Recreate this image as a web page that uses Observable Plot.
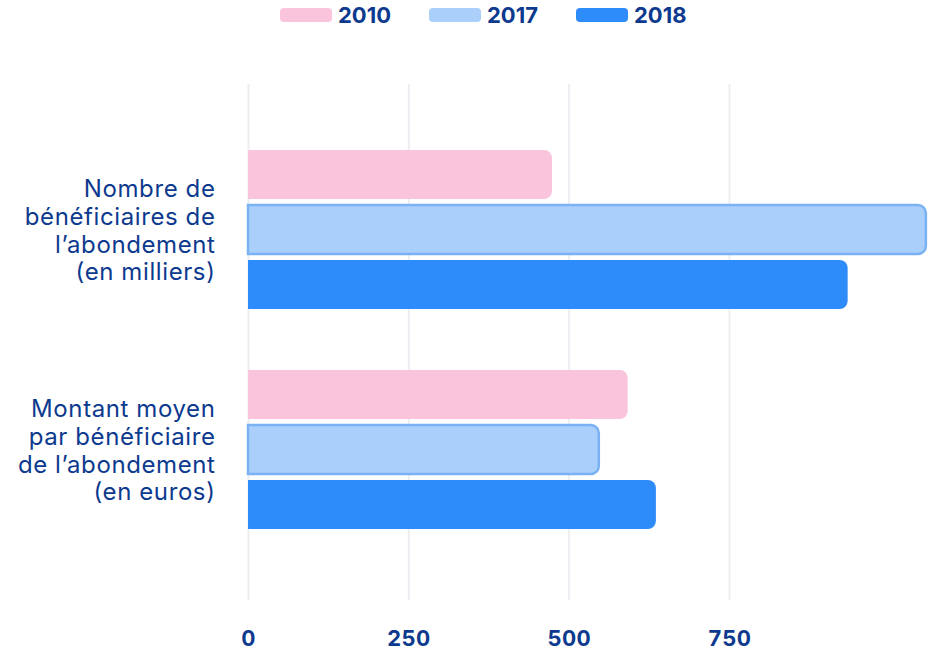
<!DOCTYPE html>
<html><head><meta charset="utf-8">
<script src="https://cdn.jsdelivr.net/npm/d3@7"></script>
<script src="https://cdn.jsdelivr.net/npm/@observablehq/plot@0.6"></script>
<style>
body{margin:0;background:#fff;font-family:Inter,"Noto Sans",sans-serif;width:928px;height:652px;overflow:hidden;}
#legend{display:flex;height:30px;align-items:center;padding-left:280px;box-sizing:border-box;}
.item{display:flex;align-items:center;margin-right:38px;}
.sw{width:52px;height:14px;border-radius:4px;margin-right:6px;}
.lab{font-size:22px;font-weight:700;color:#0d3a8e;letter-spacing:0px;}
g[aria-label="y-axis tick label"] text{letter-spacing:0.6px;}
g[aria-label="x-axis tick label"] text{letter-spacing:0.3px;}
</style></head><body>
<div id="legend"></div><div id="chart"></div>
<script>
const categoryLines = [
  ["Nombre de", "bénéficiaires de", "l’abondement", "(en milliers)"],
  ["Montant moyen", "par bénéficiaire", "de l’abondement", "(en euros)"]
];
const years = ["2010", "2017", "2018"];
const values2010 = [474, 592];
const values2017 = [1057, 547];
const values2018 = [935, 636];
const xTicks = [0, 250, 500, 750];
const colors = ["#f9c4dc", "#aacffb", "#2d8bfa"];
const navy = "#0d3a8e";

const seriesByYear = {"2010": values2010, "2017": values2017, "2018": values2018};
const data = [];
categoryLines.forEach((c, ci) => years.forEach(y => data.push({key: ci + "|" + y, year: y, value: seriesByYear[y][ci]})));
const yDomain = ["0|2010", "0|2017", "0|2018", "gap", "1|2010", "1|2017", "1|2018"];

const legend = document.getElementById("legend");
years.forEach((y, i) => {
  const it = document.createElement("div"); it.className = "item";
  it.innerHTML = `<div class="sw" style="background:${colors[i]}"></div><div class="lab">${y}</div>`;
  legend.appendChild(it);
});

const chart = Plot.plot({
  width: 928, height: 622,
  marginLeft: 248, marginRight: 0, marginTop: 54, marginBottom: 52,
  style: {fontFamily: "Inter, 'Noto Sans', sans-serif", background: "#fff"},
  x: {domain: [0, 1060.3], axis: null},
  y: {domain: yDomain, padding: 0, insetTop: 61.5, insetBottom: 67.3, axis: null},
  color: {domain: years, range: colors},
  marks: [
    Plot.ruleX(xTicks, {x: d => d, stroke: "#eceef2", strokeWidth: 2}),
    Plot.barX(data.filter(d => d.year !== "2017"), {x: "value", y: "key", fill: "year", insetTop: 3, insetBottom: 3, rx2: 8}),
    Plot.barX(data.filter(d => d.year === "2017"), {x: "value", y: "key", fill: "year", stroke: "#7ab2f3", strokeWidth: 2.5, insetTop: 3, insetBottom: 3, rx2: 8}),
    Plot.axisY({ticks: ["0|2017", "1|2017"], tickFormat: k => categoryLines[+k[0]].join("\n"), tickSize: 0, tickPadding: 33, fontSize: 24, lineHeight: 1.15, color: navy, label: null}),
    Plot.axisX({ticks: xTicks, tickSize: 0, tickPadding: 30, fontSize: 22, fontWeight: 700, color: navy, label: null})
  ]
});
document.getElementById("chart").appendChild(chart);
</script>
</body></html>
